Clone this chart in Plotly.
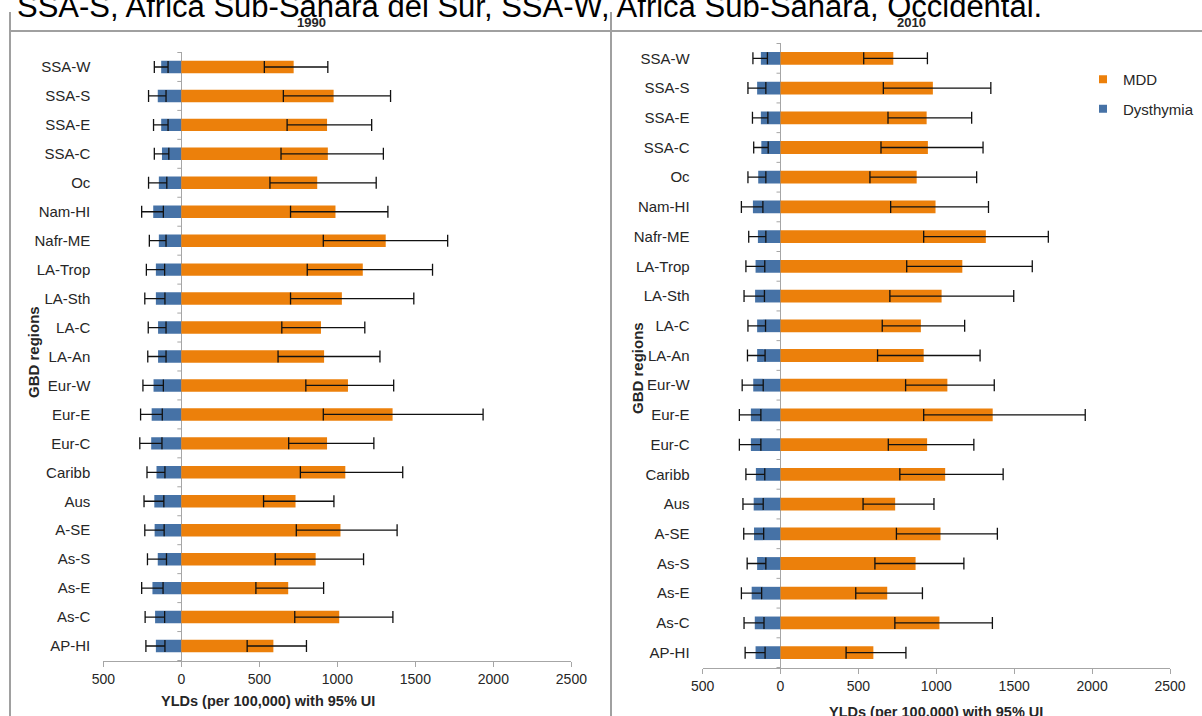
import plotly.graph_objects as go

W, H = 1202, 716

regions = ["SSA-W", "SSA-S", "SSA-E", "SSA-C", "Oc", "Nam-HI", "Nafr-ME", "LA-Trop",
           "LA-Sth", "LA-C", "LA-An", "Eur-W", "Eur-E", "Eur-C", "Caribb", "Aus",
           "A-SE", "As-S", "As-E", "As-C", "AP-HI"]

# 1990 - MDD (YLDs per 100,000) with 95% UI
mdd_1990 = [720, 976, 934, 939, 871, 988, 1310, 1163, 1029, 895, 915, 1068, 1354, 934, 1051, 732, 1020, 861, 685, 1012, 590]
mdd_1990_lo = [532, 654, 678, 639, 568, 700, 910, 807, 700, 644, 620, 798, 910, 688, 763, 527, 737, 602, 478, 727, 422]
mdd_1990_hi = [939, 1341, 1220, 1295, 1249, 1324, 1707, 1610, 1490, 1176, 1273, 1361, 1934, 1234, 1419, 978, 1383, 1168, 912, 1356, 802]
# 1990 - Dysthymia (plotted to the left of zero)
dys_1990 = [129, 151, 129, 124, 144, 180, 144, 163, 163, 149, 149, 178, 190, 193, 159, 173, 171, 151, 185, 168, 163]
dys_1990_lo = [85, 98, 85, 80, 93, 115, 98, 107, 105, 98, 98, 115, 122, 124, 105, 112, 110, 95, 117, 107, 105]
dys_1990_hi = [173, 210, 178, 173, 210, 254, 205, 224, 234, 212, 215, 246, 261, 266, 220, 239, 234, 217, 254, 232, 227]

# 2010 - MDD
mdd_2010 = [724, 978, 938, 946, 874, 995, 1318, 1167, 1034, 901, 919, 1071, 1362, 941, 1057, 736, 1027, 867, 685, 1020, 596]
mdd_2010_lo = [534, 660, 690, 645, 574, 707, 919, 810, 702, 653, 623, 803, 919, 692, 766, 530, 744, 606, 483, 734, 421]
mdd_2010_hi = [943, 1350, 1227, 1300, 1259, 1335, 1719, 1616, 1497, 1182, 1281, 1372, 1956, 1241, 1429, 985, 1392, 1177, 911, 1360, 805]
# 2010 - Dysthymia
dys_2010 = [126, 150, 126, 123, 143, 177, 145, 160, 163, 150, 150, 175, 190, 190, 158, 172, 170, 150, 185, 165, 160]
dys_2010_lo = [84, 94, 81, 79, 94, 113, 94, 101, 103, 96, 99, 111, 126, 126, 101, 111, 108, 94, 121, 106, 99]
dys_2010_hi = [177, 209, 180, 172, 209, 251, 204, 222, 234, 209, 212, 246, 264, 264, 222, 241, 236, 214, 251, 234, 227]

x_tickvals = [-500, 0, 500, 1000, 1500, 2000, 2500]
x_ticktext = ["500", "0", "500", "1000", "1500", "2000", "2500"]

ORANGE = "#EC800B"
BLUE = "#4672A6"
ERR = "#111111"
AXIS = "#A6A6A6"
FRAME = "#A0A0A0"
TXT = "#262626"
FONT = "Arial, Liberation Sans, sans-serif"


def px(p):
    return p / W


def py(p):
    return 1 - p / H


panels = [
    dict(xa="x", ya="y", mdd=mdd_1990, mlo=mdd_1990_lo, mhi=mdd_1990_hi,
         dys=dys_1990, dlo=dys_1990_lo, dhi=dys_1990_hi),
    dict(xa="x2", ya="y2", mdd=mdd_2010, mlo=mdd_2010_lo, mhi=mdd_2010_hi,
         dys=dys_2010, dlo=dys_2010_lo, dhi=dys_2010_hi),
]

fig = go.Figure()
for p in panels:
    fig.add_trace(go.Bar(
        orientation="h", y=regions, x=[-v for v in p["dys"]],
        name="Dysthymia", marker=dict(color=BLUE, line=dict(width=0)),
        error_x=dict(type="data", symmetric=False,
                     array=[v - lo for v, lo in zip(p["dys"], p["dlo"])],
                     arrayminus=[hi - v for v, hi in zip(p["dys"], p["dhi"])],
                     color=ERR, thickness=1.3, width=6),
        xaxis=p["xa"], yaxis=p["ya"], showlegend=False))
    fig.add_trace(go.Bar(
        orientation="h", y=regions, x=p["mdd"],
        name="MDD", marker=dict(color=ORANGE, line=dict(width=0)),
        error_x=dict(type="data", symmetric=False,
                     array=[hi - v for v, hi in zip(p["mdd"], p["mhi"])],
                     arrayminus=[v - lo for v, lo in zip(p["mdd"], p["mlo"])],
                     color=ERR, thickness=1.3, width=6),
        xaxis=p["xa"], yaxis=p["ya"], showlegend=False))

# legend entries
fig.add_trace(go.Scatter(x=[None], y=[None], mode="markers", name="MDD",
                         marker=dict(symbol="square", size=8, color=ORANGE),
                         xaxis="x2", yaxis="y2", legendgroup="a"))
fig.add_trace(go.Scatter(x=[None], y=[None], mode="markers", name="Dysthymia",
                         marker=dict(symbol="square", size=8, color=BLUE),
                         xaxis="x2", yaxis="y2", legendgroup="b"))


def xaxis_cfg(domain, anchor):
    return dict(domain=domain, anchor=anchor, range=[-500, 2500],
                tickmode="array", tickvals=x_tickvals, ticktext=x_ticktext,
                showline=True, linecolor=AXIS, linewidth=1,
                ticks="outside", ticklen=5, tickcolor=AXIS, tickwidth=1,
                tickfont=dict(size=14, color=TXT, family=FONT),
                showgrid=False, zeroline=True, zerolinecolor=AXIS, zerolinewidth=1,
                automargin=False, fixedrange=True)


def yaxis_cfg(domain, anchor):
    return dict(domain=domain, anchor=anchor, type="category",
                categoryorder="array", categoryarray=regions, autorange="reversed",
                showline=False, ticks="", showgrid=False,
                tickfont=dict(size=15, color=TXT, family=FONT),
                ticklabelstandoff=12, automargin=False, fixedrange=True)


shapes = []
# panel frame lines
shapes.append(dict(type="line", xref="paper", yref="paper", x0=px(10), x1=px(10), y0=0, y1=py(12),
                   line=dict(color=FRAME, width=2)))
shapes.append(dict(type="line", xref="paper", yref="paper", x0=px(611), x1=px(611), y0=0, y1=py(12),
                   line=dict(color=FRAME, width=2)))
shapes.append(dict(type="line", xref="paper", yref="paper", x0=px(10), x1=1, y0=py(31), y1=py(31),
                   line=dict(color=FRAME, width=2)))
# small category ticks on the zero line
for xa, ya in (("x", "y"), ("x2", "y2")):
    for i in range(len(regions) + 1):
        shapes.append(dict(type="line", xref=xa, yref=ya, xsizemode="pixel", xanchor=0,
                           x0=-4, x1=0, y0=i - 0.5, y1=i - 0.5,
                           line=dict(color=AXIS, width=1)))

annotations = [
    dict(text="SSA-S, Africa Sub-Sahara del Sur, SSA-W, Africa Sub-Sahara, Occidental.",
         xref="paper", yref="paper", x=px(15), y=py(7), xanchor="left", yanchor="middle",
         showarrow=False, font=dict(size=31, color="#000000", family=FONT)),
    dict(text="<b>1990</b>", xref="paper", yref="paper", x=px(311), y=py(22),
         xanchor="center", yanchor="middle", showarrow=False,
         font=dict(size=13, color=TXT, family=FONT)),
    dict(text="<b>2010</b>", xref="paper", yref="paper", x=px(911), y=py(22),
         xanchor="center", yanchor="middle", showarrow=False,
         font=dict(size=13, color=TXT, family=FONT)),
    dict(text="<b>YLDs (per 100,000) with 95% UI</b>", xref="paper", yref="paper",
         x=px(268), y=py(701), xanchor="center", yanchor="middle", showarrow=False,
         font=dict(size=14.5, color=TXT, family=FONT)),
    dict(text="<b>YLDs (per 100,000) with 95% UI</b>", xref="paper", yref="paper",
         x=px(936), y=py(712), xanchor="center", yanchor="middle", showarrow=False,
         font=dict(size=14.5, color=TXT, family=FONT)),
    dict(text="<b>GBD regions</b>", xref="paper", yref="paper", x=px(34), y=py(352),
         xanchor="center", yanchor="middle", showarrow=False, textangle=-90,
         font=dict(size=15, color=TXT, family=FONT)),
    dict(text="<b>GBD regions</b>", xref="paper", yref="paper", x=px(637), y=py(368),
         xanchor="center", yanchor="middle", showarrow=False, textangle=-90,
         font=dict(size=15, color=TXT, family=FONT)),
]

fig.update_layout(
    width=W, height=H,
    margin=dict(l=0, r=0, t=0, b=0, pad=0, autoexpand=False),
    paper_bgcolor="white", plot_bgcolor="white",
    barmode="relative", bargap=0.57,
    xaxis=xaxis_cfg([px(103.3), px(571.4)], "y"),
    yaxis=yaxis_cfg([py(661), py(52)], "x"),
    xaxis2=xaxis_cfg([px(702.6), px(1170)], "y2"),
    yaxis2=yaxis_cfg([py(668), py(43)], "x2"),
    showlegend=True,
    legend=dict(x=px(1083), y=py(63), xanchor="left", yanchor="top",
                traceorder="grouped", tracegroupgap=7,
                bgcolor="rgba(0,0,0,0)", borderwidth=0,
                font=dict(size=15, color=TXT, family=FONT)),
    shapes=shapes,
    annotations=annotations,
    font=dict(family=FONT, color=TXT),
)

fig.write_html(
    "out.html",
    config={"displayModeBar": False},
    post_script="document.body.style.margin='0px';document.body.style.overflow='hidden';",
)
